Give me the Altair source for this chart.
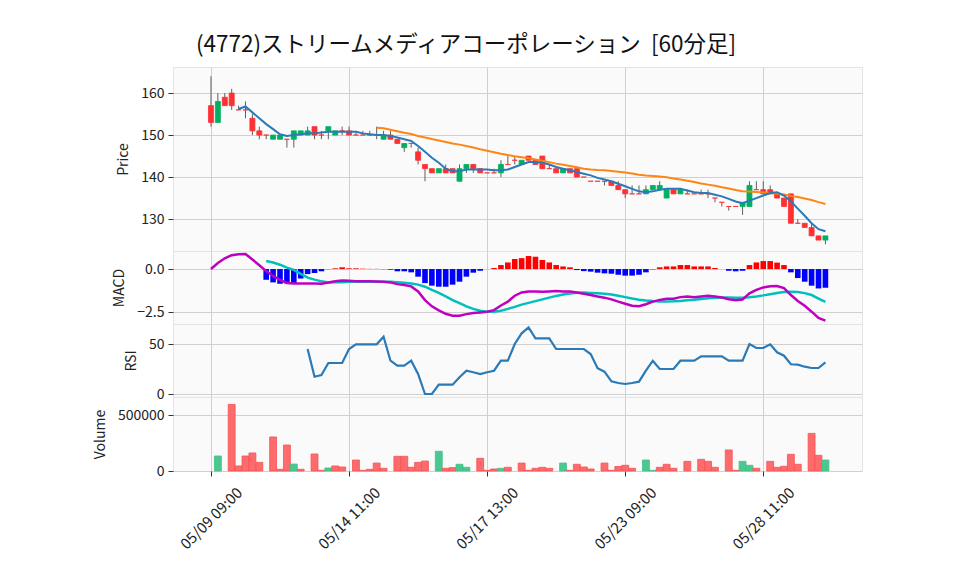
import altair as alt
import pandas as pd

FONT = "Noto Sans CJK JP"
TITLE = "(4772)ストリームメディアコーポレーション\u00a0\u00a0[60分足]"

# ---- x axis ticks ----
tick_idx = [0, 20, 40, 60, 80]
tick_labels = ["05/09 09:00", "05/14 11:00", "05/17 13:00", "05/23 09:00", "05/28 11:00"]

# ---- OHLC (60-minute bars, index 0 .. 89) ----
opens = [157, 153, 159, 160, 156, 156, 154, 151, 150, 149,
         149, 149, 149, 150, 150, 152, 150, 151, 150, 151,
         151, 150, 150, 150, 150, 149, 150, 149, 147, 148,
         146, 143, 142, 141, 142, 142, 139, 142, 143, 142,
         141, 141, 141, 143, 144, 143, 145, 144, 145, 142,
         142, 141, 142, 142, 140, 139, 139, 139, 139, 138,
         137, 136, 136, 136, 137, 137, 135, 137, 136, 136,
         136, 136, 136, 135, 134, 133, 133, 133, 133, 137,
         137, 137, 136, 135, 136, 129, 129, 128, 126, 125]
highs = [164, 160, 160, 161, 157, 158, 155, 152, 150, 150,
         150, 149, 151, 151, 152, 152, 151, 152, 151, 152,
         152, 151, 151, 151, 152, 151, 151, 149, 148, 148,
         147, 143, 142, 142, 143, 142, 143, 143, 143, 142,
         141, 142, 144, 145, 145, 144, 145, 144, 145, 143,
         142, 142, 142, 142, 140, 139, 139, 139, 139, 139,
         137, 138, 138, 138, 138, 139, 137, 137, 137, 137,
         136, 137, 137, 135, 134, 133, 133, 134, 139, 139,
         139, 138, 136, 135, 136, 130, 129, 129, 126, 126]
lows = [152, 153, 157, 156, 156, 154, 150, 149, 149, 149,
        149, 147, 147, 150, 150, 149, 149, 149, 150, 150,
        150, 150, 150, 150, 149, 149, 149, 148, 146, 147,
        143, 139, 141, 141, 141, 141, 139, 141, 141, 141,
        141, 141, 140, 143, 143, 143, 144, 143, 142, 142,
        141, 141, 141, 140, 140, 139, 139, 138, 138, 137,
        135, 136, 136, 136, 137, 137, 135, 136, 136, 136,
        136, 136, 135, 134, 133, 132, 133, 131, 133, 137,
        136, 136, 135, 133, 129, 129, 128, 126, 125, 124]
closes = [153, 158, 157, 157, 156, 156, 151, 150, 150, 150,
          150, 149, 151, 151, 151, 150, 150, 152, 151, 151,
          150, 150, 150, 150, 150, 150, 149, 148, 148, 148,
          144, 142, 141, 142, 141, 141, 142, 143, 142, 141,
          141, 141, 143, 143, 144, 144, 144, 143, 142, 142,
          141, 142, 141, 140, 140, 139, 139, 139, 138, 137,
          136, 136, 136, 137, 138, 138, 137, 136, 137, 136,
          136, 136, 136, 135, 134, 133, 133, 134, 138, 137,
          136, 136, 135, 133, 129, 129, 128, 126, 125, 126]
volumes = [0, 134000, 0, 595000, 45000, 134000, 161000, 77000, 0, 304000,
           15000, 232000, 62000, 15000, 0, 152000, 6000, 27000, 45000, 36000,
           0, 98000, 6000, 15000, 71000, 24000, 0, 131000, 131000, 33000,
           77000, 89000, 0, 176000, 24000, 30000, 60000, 33000, 0, 113000,
           6000, 18000, 24000, 33000, 0, 71000, 6000, 24000, 33000, 24000,
           0, 71000, 6000, 60000, 36000, 18000, 0, 71000, 6000, 40000,
           51000, 24000, 0, 98000, 6000, 33000, 60000, 24000, 0, 86000,
           0, 104000, 86000, 33000, 0, 188000, 6000, 86000, 51000, 24000,
           0, 86000, 33000, 42000, 149000, 60000, 0, 336000, 140000, 98000]

# ---- moving averages ----
ma5_start = 4
ma5 = [156.2, 156.8, 155.4, 154.0, 152.6, 151.4, 150.2, 149.8, 150.0, 150.2,
       150.4, 150.4, 150.6, 150.8, 150.8, 150.8, 150.8, 150.8, 150.4, 150.2,
       150.0, 150.0, 149.8, 149.4, 149.0, 148.6, 147.4, 146.0, 144.6, 143.4,
       142.0, 141.4, 141.4, 141.8, 141.8, 141.8, 141.8, 141.6, 141.6, 141.8,
       142.4, 143.0, 143.6, 143.6, 143.4, 143.0, 142.4, 142.0, 141.6, 141.2,
       140.8, 140.4, 139.8, 139.4, 139.0, 138.4, 137.8, 137.2, 136.6, 136.4,
       136.6, 137.0, 137.2, 137.2, 137.2, 136.8, 136.4, 136.2, 136.2, 135.8,
       135.4, 134.8, 134.2, 133.8, 134.4, 135.0, 135.6, 136.2, 136.4, 135.6,
       134.2, 132.5, 130.8, 129.0, 127.6, 127.1]
ma25_start = 24
ma25 = [151.76, 151.64, 151.28, 150.92, 150.56, 150.24, 149.76, 149.40, 149.04, 148.72,
        148.36, 148.00, 147.72, 147.40, 147.04, 146.64, 146.28, 145.92, 145.56, 145.24,
        144.96, 144.72, 144.48, 144.20, 143.88, 143.56, 143.20, 142.92, 142.64, 142.32,
        142.00, 141.80, 141.68, 141.60, 141.44, 141.28, 141.08, 140.84, 140.56, 140.36,
        140.24, 140.12, 139.96, 139.68, 139.44, 139.12, 138.80, 138.48, 138.20, 137.92,
        137.60, 137.28, 136.92, 136.64, 136.56, 136.44, 136.32, 136.20, 136.04, 135.84,
        135.52, 135.24, 134.92, 134.52, 134.04, 133.60]

# ---- MACD ----
macd = [0.00, 0.35, 0.62, 0.80, 0.85, 0.87, 0.55, 0.22, -0.12, -0.40,
        -0.62, -0.80, -0.84, -0.84, -0.84, -0.84, -0.85, -0.78, -0.70, -0.66,
        -0.68, -0.70, -0.70, -0.71, -0.72, -0.73, -0.77, -0.87, -0.92, -1.00,
        -1.29, -1.79, -2.15, -2.38, -2.58, -2.69, -2.69, -2.60, -2.54, -2.50,
        -2.46, -2.37, -2.10, -1.88, -1.54, -1.35, -1.29, -1.29, -1.31, -1.29,
        -1.27, -1.29, -1.29, -1.35, -1.42, -1.50, -1.58, -1.65, -1.75, -1.88,
        -2.00, -2.12, -2.15, -2.03, -1.88, -1.78, -1.72, -1.71, -1.62, -1.58,
        -1.62, -1.58, -1.54, -1.58, -1.64, -1.74, -1.80, -1.76, -1.40, -1.20,
        -1.06, -0.99, -0.98, -1.10, -1.50, -1.84, -2.12, -2.46, -2.82, -2.98]
sig_start = 8
signal = [0.46, 0.38, 0.25, 0.08, -0.05, -0.28, -0.50, -0.61, -0.71, -0.77,
          -0.76, -0.76, -0.74, -0.74, -0.73, -0.73, -0.73, -0.73, -0.74, -0.76,
          -0.79, -0.83, -0.90, -1.02, -1.20, -1.38, -1.58, -1.79, -1.97, -2.15,
          -2.30, -2.40, -2.46, -2.46, -2.40, -2.30, -2.18, -2.05, -1.95, -1.85,
          -1.75, -1.65, -1.55, -1.47, -1.41, -1.37, -1.36, -1.38, -1.40, -1.43,
          -1.47, -1.54, -1.62, -1.70, -1.77, -1.82, -1.85, -1.87, -1.87, -1.86,
          -1.84, -1.80, -1.77, -1.73, -1.69, -1.65, -1.64, -1.64, -1.66, -1.66,
          -1.63, -1.58, -1.52, -1.45, -1.38, -1.33, -1.31, -1.32, -1.39, -1.50,
          -1.70, -1.90]
hist = [-0.62, -0.77, -0.85, -0.83, -0.81, -0.54, -0.29, -0.23, -0.13, -0.01,
        0.04, 0.10, 0.04, 0.04, 0.02, 0.01, 0.01, -0.01, -0.04, -0.13,
        -0.13, -0.19, -0.44, -0.81, -0.96, -1.02, -1.02, -0.90, -0.73, -0.44,
        -0.21, -0.10, 0.00, 0.06, 0.23, 0.38, 0.58, 0.63, 0.75, 0.71,
        0.52, 0.38, 0.23, 0.15, 0.10, -0.06, -0.12, -0.15, -0.21, -0.25,
        -0.27, -0.33, -0.38, -0.38, -0.33, -0.19, -0.02, 0.10, 0.15, 0.15,
        0.23, 0.23, 0.15, 0.15, 0.15, 0.06, 0.00, -0.10, -0.13, -0.10,
        0.23, 0.38, 0.46, 0.46, 0.37, 0.23, -0.19, -0.52, -0.73, -0.96,
        -1.12, -1.08]

# ---- RSI ----
rsi_start = 14
rsi = [45.3, 17.6, 19.3, 31.3, 31.3, 31.3, 45.3, 50.0, 50.0, 50.0,
       50.0, 57.6, 33.6, 28.6, 28.6, 33.6, 20.3, 0.3, 0.3, 9.6,
       9.6, 9.6, 17.0, 23.6, 22.0, 20.3, 22.0, 23.6, 33.6, 33.6,
       50.3, 61.0, 67.0, 56.0, 56.0, 56.0, 45.3, 45.3, 45.3, 45.3,
       45.3, 40.3, 26.0, 22.6, 13.0, 11.3, 10.3, 11.3, 12.6, 23.6,
       33.6, 25.3, 25.3, 25.3, 33.6, 33.6, 33.6, 38.0, 38.0, 38.0,
       38.0, 33.6, 33.6, 33.6, 50.3, 46.3, 46.3, 50.0, 42.0, 38.6,
       30.0, 29.6, 27.6, 26.3, 26.3, 32.0]

N = len(closes)

# ---- tables ----
candles = pd.DataFrame({"i": range(N), "open": opens, "high": highs,
                        "low": lows, "close": closes})
candles["dir"] = ["up" if c > o else "down" for o, c in zip(opens, closes)]

vol = pd.DataFrame({"i": range(N), "volume": volumes})
vol["dir"] = ["up" if k > 0 and closes[k] > closes[k - 1] else "down" for k in range(N)]
vol = vol[vol["volume"] > 0]

ma5_df = pd.DataFrame({"i": range(ma5_start, ma5_start + len(ma5)), "v": ma5})
ma25_df = pd.DataFrame({"i": range(ma25_start, ma25_start + len(ma25)), "v": ma25})
macd_df = pd.DataFrame({"i": range(N), "v": macd})
sig_df = pd.DataFrame({"i": range(sig_start, sig_start + len(signal)), "v": signal})
hist_df = pd.DataFrame({"i": range(sig_start, sig_start + len(hist)), "v": hist})
hist_df["s"] = ["pos" if h >= 0 else "neg" for h in hist]
rsi_df = pd.DataFrame({"i": range(rsi_start, rsi_start + len(rsi)), "v": rsi})

# ---- encodings ----
W = 689
XDOM = [-5.5, 94.3]
label_expr = " : ".join(f"datum.value == {t} ? '{l}'" for t, l in zip(tick_idx, tick_labels)) + " : ''"


def xenc(bottom=False):
    if bottom:
        ax = alt.Axis(values=tick_idx, labelExpr=label_expr, labelAngle=-45,
                      labelAlign="center", labelBaseline="middle", labelPadding=42,
                      labelFontSize=15, tickSize=5, grid=True, title=None, domain=False,
                      labelOverlap=False)
    else:
        ax = alt.Axis(values=tick_idx, labels=False, ticks=False, grid=True,
                      title=None, domain=False)
    return alt.X("i:Q", scale=alt.Scale(domain=XDOM, nice=False, zero=False, padding=0),
                 axis=ax)


def yenc(field, dom, vals, title, fmt=None):
    kw = dict(values=vals, title=title, tickSize=5, labelPadding=4, titlePadding=10)
    if fmt:
        kw["format"] = fmt
    return alt.Y(f"{field}:Q", scale=alt.Scale(domain=dom, nice=False, zero=False, padding=0),
                 axis=alt.Axis(**kw))


cscale = alt.Scale(domain=["up", "down"], range=["#00b060", "#fe3032"])

# ---- price panel ----
PDOM = [122.4, 166.2]
PV = [130, 140, 150, 160]
wick = alt.Chart(candles).mark_rule(color="#606060", strokeWidth=1).encode(
    x=xenc(), y=yenc("low", PDOM, PV, "Price"), y2="high:Q")
body = alt.Chart(candles).mark_bar(size=5, strokeWidth=0.8).encode(
    x=xenc(), y=yenc("open", PDOM, PV, "Price"), y2="close:Q",
    color=alt.Color("dir:N", scale=cscale, legend=None),
    stroke=alt.Stroke("dir:N", scale=cscale, legend=None))
l_ma5 = alt.Chart(ma5_df).mark_line(color="#2a7ab8", strokeWidth=2).encode(
    x=xenc(), y=yenc("v", PDOM, PV, "Price"))
l_ma25 = alt.Chart(ma25_df).mark_line(color="#ff8515", strokeWidth=2).encode(
    x=xenc(), y=yenc("v", PDOM, PV, "Price"))
price = alt.layer(wick, body, l_ma25, l_ma5).properties(width=W, height=184)

# ---- MACD panel ----
MDOM = [-3.17, 1.04]
MV = [-2.5, 0.0]
bars = alt.Chart(hist_df).mark_bar(size=5.6).encode(
    x=xenc(), y=yenc("v", MDOM, MV, "MACD", ".1f"), y2=alt.datum(0),
    color=alt.Color("s:N", scale=alt.Scale(domain=["pos", "neg"], range=["#ff0000", "#0000ff"]),
                    legend=None))
l_macd = alt.Chart(macd_df).mark_line(color="#bf00bf", strokeWidth=2.5).encode(
    x=xenc(), y=yenc("v", MDOM, MV, "MACD", ".1f"))
l_sig = alt.Chart(sig_df).mark_line(color="#00bfbf", strokeWidth=2.5).encode(
    x=xenc(), y=yenc("v", MDOM, MV, "MACD", ".1f"))
macd_panel = alt.layer(bars, l_sig, l_macd).properties(width=W, height=73)

# ---- RSI panel ----
rsi_panel = alt.Chart(rsi_df).mark_line(color="#2a7ab8", strokeWidth=2.2).encode(
    x=xenc(), y=yenc("v", [-2.7, 70.3], [0, 50], "RSI")).properties(width=W, height=73)

# ---- volume panel ----
vscale = alt.Scale(domain=["up", "down"], range=["#4dc790", "#fd6b6c"])
vstroke = alt.Scale(domain=["up", "down"], range=["#3fbf86", "#f55353"])
vol_panel = alt.Chart(vol).mark_bar(size=6.9, strokeWidth=0.8).encode(
    x=xenc(bottom=True), y=yenc("volume", [0, 661000], [0, 500000], "Volume", "d"),
    color=alt.Color("dir:N", scale=vscale, legend=None),
    stroke=alt.Stroke("dir:N", scale=vstroke, legend=None)).properties(width=W, height=74)

chart = alt.vconcat(price, macd_panel, rsi_panel, vol_panel, spacing=0, bounds="flush").properties(
    title=alt.TitleParams(text=TITLE, anchor="start", fontSize=22.5, font=FONT,
                          fontWeight="normal", color="#111111", dx=103, offset=10),
    padding={"left": 84, "top": 26, "right": 5, "bottom": 5},
    background="white",
).resolve_scale(color="independent", stroke="independent").configure_view(
    fill="#fafafa", stroke="#e4e4e4"
).configure_axis(
    gridColor="#d0d0d0", gridWidth=1, domain=False, tickColor="#333333",
    labelFont=FONT, labelFontSize=14, labelColor="#222222",
    titleFont=FONT, titleFontSize=14, titleFontWeight="normal", titleColor="#222222",
)

chart.save("out.html", embed_options={"renderer": "svg", "actions": False})
